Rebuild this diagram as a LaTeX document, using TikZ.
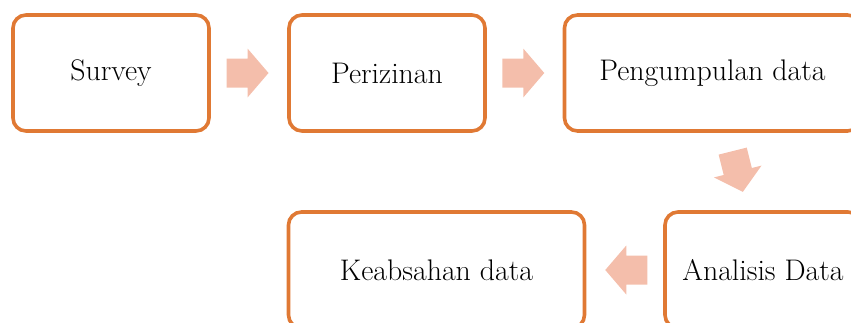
\documentclass[tikz,border=0pt]{standalone}
\usetikzlibrary{calc}
\definecolor{boxline}{RGB}{224,121,52}
\definecolor{arrowfill}{RGB}{244,190,171}
\begin{document}
\begin{tikzpicture}[x=1pt,y=-1pt,
  stepbox/.style={draw=boxline,line width=3.6pt,rounded corners=13pt,
    minimum height=116pt,inner sep=0pt,fill=white,
    font=\fontsize{29.8}{34}\selectfont},
  narrowbox/.style={stepbox,minimum width=196pt},
  widebox/.style={stepbox,minimum width=296pt},
  blockarrow/.pic={
    \fill[arrowfill] (-21,-14.5) -- (0,-14.5) -- (0,-24.5) -- (21,0)
      -- (0,24.5) -- (0,14.5) -- (-21,14.5) -- cycle;
  }]
\useasboundingbox (0,0) rectangle (851,322);
% top row
\node[narrowbox] (survey) at (111,73) {Survey};
\node[narrowbox] (izin)   at (387,73) {Perizinan};
\node[widebox]   (kumpul) at (712.5,73) {Pengumpulan data};
% bottom row
\node[widebox]   (absah)  at (436.5,270) {Keabsahan data};
\node[narrowbox] (analis) at (763,270) {Analisis Data};
% block arrows between the steps
\pic at ($(survey.east)!0.5!(izin.west)+(-1.5,0)$) {blockarrow};
\pic at ($(izin.east)!0.5!(kumpul.west)+(-1.5,0)$) {blockarrow};
\pic[rotate=-76] at ($(kumpul.south)!0.5!(analis.north)$) {blockarrow};
\pic[rotate=180] at ($(absah.east)!0.5!(analis.west)+(1.5,0)$) {blockarrow};
\end{tikzpicture}
\end{document}
